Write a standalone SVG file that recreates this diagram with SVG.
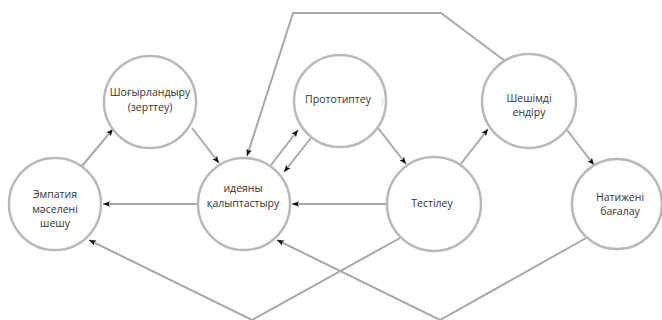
<svg xmlns="http://www.w3.org/2000/svg" width="662" height="320" viewBox="0 0 662 320">
<defs>
<marker id="arr" viewBox="-8 -4 9 8" refX="0" refY="0" markerWidth="9" markerHeight="8" markerUnits="userSpaceOnUse" orient="auto">
<path d="M0,0 L-7,-2.8 L-5.5,0 L-7,2.8 Z" fill="#111"/>
</marker>
<style>
.node circle{fill:#fff;stroke:#b9b9b9;stroke-width:2.5}
.node text{font-family:"Open Sans","Noto Sans","Liberation Sans",sans-serif;font-size:10.5px;fill:#333;text-anchor:middle}
.edge{fill:none;stroke:#a8a8a8;stroke-width:2;stroke-linejoin:miter}
.arrow{marker-end:url(#arr)}
</style>
</defs>
<rect width="662" height="320" fill="#fff"/>
<g id="connectors">
<path class="edge arrow" d="M82,166 L113,129"/>
<path class="edge arrow" d="M192,128 L219,163"/>
<path class="edge arrow" d="M271,165 L298,130"/>
<path class="edge arrow" d="M311,138 L284,172"/>
<path class="edge arrow" d="M505,61 L441,13 L293,13 L247,156"/>
<path class="edge arrow" d="M378,128 L406,164"/>
<path class="edge arrow" d="M460,165 L488,129"/>
<path class="edge arrow" d="M567,130 L594,165"/>
<path class="edge arrow" d="M387,204 L292,204"/>
<path class="edge arrow" d="M198,204 L103,204"/>
<path class="edge arrow" d="M400,238 L252,320 L89,240"/>
<path class="edge arrow" d="M588,237 L440,320 L277,240"/>
</g>
<g id="n-empathy" class="node">
<circle cx="55" cy="204" r="46"/>
<text x="55" y="198">Эмпатия</text>
<text x="55" y="212.5">мәселені</text>
<text x="55" y="227">шешу</text>
</g>
<g id="n-research" class="node">
<circle cx="150" cy="102" r="46"/>
<text x="150" y="96">Шоғырландыру</text>
<text x="150" y="111">(зерттеу)</text>
</g>
<g id="n-ideate" class="node">
<circle cx="244" cy="204" r="46"/>
<text x="243" y="192">идеяны</text>
<text x="243" y="207">қалыптастыру</text>
</g>
<g id="n-prototype" class="node">
<circle cx="340" cy="101" r="46"/>
<text x="338" y="103">Прототиптеу</text>
<text x="382" y="105" style="fill:#d0d0d0;font-size:9px">)</text>
</g>
<g id="n-test" class="node">
<circle cx="434" cy="204" r="47"/>
<text x="432" y="207">Тестілеу</text>
</g>
<g id="n-implement" class="node">
<circle cx="529" cy="101" r="47"/>
<text x="529" y="101.5">Шешімді</text>
<text x="529" y="116">ендіру</text>
</g>
<g id="n-evaluate" class="node">
<circle cx="617" cy="204" r="45"/>
<text x="620" y="200.5">Натижені</text>
<text x="620" y="215">бағалау</text>
</g>
</svg>
